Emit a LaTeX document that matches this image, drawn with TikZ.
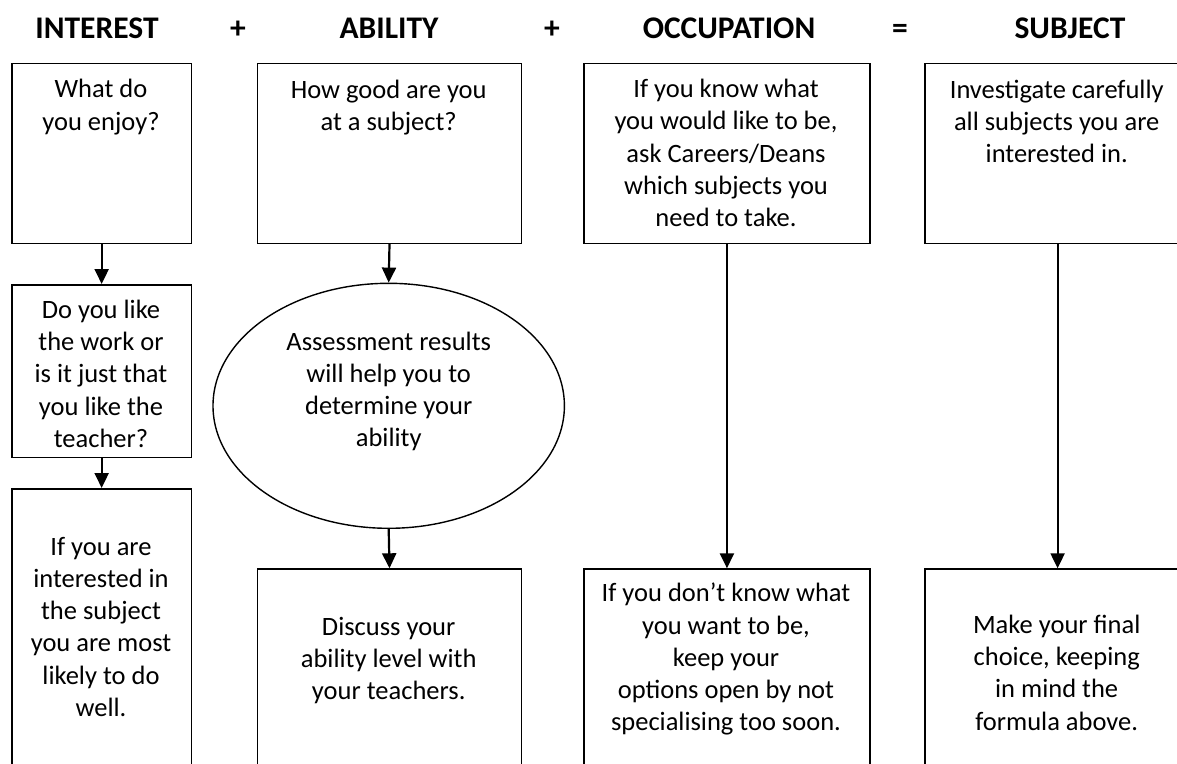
\documentclass[tikz,border=0pt]{standalone}
\usepackage{fontspec}
\setmainfont{Carlito}
\usetikzlibrary{arrows.meta,shapes.geometric}
\newcommand{\mlines}[1]{\parbox[t]{320pt}{\centering #1}}
\begin{document}
\begin{tikzpicture}[x=1pt,y=-1pt,
  box/.style={draw=black,line width=1.6pt,rectangle,inner sep=0pt,anchor=north west},
  ell/.style={draw=black,line width=1.4pt,ellipse,inner sep=0pt,minimum width=351.4pt,minimum height=245pt},
  txt/.style={inner sep=0pt,anchor=base,font=\fontsize{26.5}{32.3}\selectfont},
  hdr/.style={inner sep=0pt,anchor=base,font=\fontsize{31.5}{38}\selectfont\bfseries},
  arr/.style={line width=2.2pt,-{Triangle[length=15pt,width=14pt]}}]
\useasboundingbox (0,0) rectangle (1177,763);
\clip (0,0) rectangle (1177,763);
\fill[white] (0,0) rectangle (1177,763);
% headers
\node[hdr] (hI) at (97,38) {INTEREST};
\node[hdr] (p1) at (238,38) {+};
\node[hdr] (hA) at (389,38) {ABILITY};
\node[hdr] (p2) at (552,38) {+};
\node[hdr] (hO) at (729,38) {OCCUPATION};
\node[hdr] (eq) at (900,38) {=};
\node[hdr] (hS) at (1070,38) {SUBJECT};
% boxes
\node[box,minimum width=179.7pt,minimum height=179.8pt] (i1) at (11,62.7) {};
\node[box,minimum width=179.7pt,minimum height=172.7pt] (i2) at (11,284) {};
\node[box,minimum width=179.7pt,minimum height=320pt] (i3) at (11,488) {};
\node[box,minimum width=264pt,minimum height=179.8pt] (a1) at (256.7,62.7) {};
\node[ell] (a2) at (388.7,405.8) {};
\node[box,minimum width=264pt,minimum height=250pt] (a3) at (256.7,568.3) {};
\node[box,minimum width=285.7pt,minimum height=179.8pt] (o1) at (583.3,62.7) {};
\node[box,minimum width=285.7pt,minimum height=250pt] (o2) at (583.3,568.3) {};
\node[box,minimum width=265pt,minimum height=179.8pt] (s1) at (924.3,62.7) {};
\node[box,minimum width=265pt,minimum height=250pt] (s2) at (924.3,568.3) {};
% texts
\node[txt] (ti1) at (101,97.7) {\mlines{What do\\you enjoy?}};
\node[txt] (ti2) at (101,318.3) {\mlines{Do you like\\the work or\\is it just that\\you like the\\teacher?}};
\node[txt] (ti3) at (101,555) {\mlines{If you are\\interested in\\the subject\\you are most\\likely to do\\well.}};
\node[txt] (ta1) at (388.7,98.3) {\mlines{How good are you\\at a subject?}};
\node[txt] (ta2) at (388.7,350) {\mlines{Assessment results\\will help you to\\determine your\\ability}};
\node[txt] (ta3) at (388.7,635) {\mlines{Discuss your\\ability level with\\your teachers.}};
\node[txt] (to1) at (726,97.5) {\mlines{If you know what\\you would like to be,\\ask Careers/Deans\\which subjects you\\need to take.}};
\node[txt] (to2) at (726,601.7) {\mlines{If you don’t know what\\you want to be,\\keep your\\options open by not\\specialising too soon.}};
\node[txt] (ts1) at (1056.7,98.3) {\mlines{Investigate carefully\\all subjects you are\\interested in.}};
\node[txt] (ts2) at (1056.7,633.3) {\mlines{Make your final\\choice, keeping\\in mind the\\formula above.}};
% arrows
\draw[arr] (i1.south) -- (i2.north);
\draw[arr] (i2.south) -- (i3.north);
\draw[arr] (a1.south) -- (a2.north);
\draw[arr] (a2.south) -- (a3.north);
\draw[arr] (o1.south) -- (o2.north);
\draw[arr] (s1.south) -- (s2.north);
\end{tikzpicture}
\end{document}
